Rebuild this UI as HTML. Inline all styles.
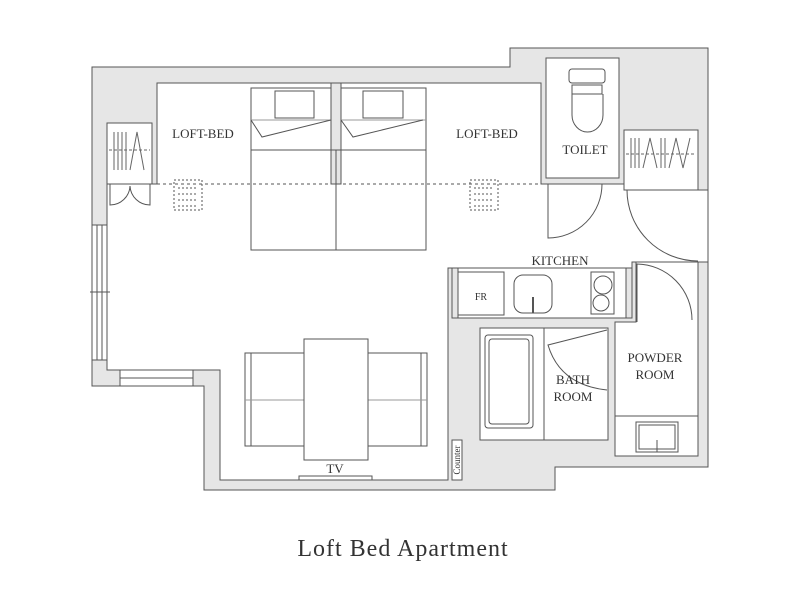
<!DOCTYPE html>
<html><head><meta charset="utf-8"><style>
html,body{margin:0;padding:0;background:#fff;width:800px;height:600px;overflow:hidden}
text{font-family:"Liberation Serif",serif;fill:#333}
</style></head><body>
<svg width="800" height="600" viewBox="0 0 800 600" xmlns="http://www.w3.org/2000/svg">
<g stroke="#555" stroke-width="1" fill="none">
<polygon points="92,67 510,67 510,48 708,48 708,467 555,467 555,490 204,490 204,386 92,386" fill="#e6e6e6"/>
<polygon points="157,83 541,83 541,184 624,184 624,190 708,190 708,262 632,262 632,268 448,268 448,480 220,480 220,370 107,370 107,184 157,184" fill="#fff"/>
<rect x="546" y="58" width="73" height="120" fill="#fff"/>
<rect x="624" y="130" width="74" height="60" fill="#fff"/>
<rect x="107" y="123" width="45" height="61" fill="#fff"/>
<rect x="452" y="268" width="180" height="50" fill="#fff"/>
<rect x="452" y="268" width="6" height="50" fill="#e6e6e6"/>
<rect x="626" y="268" width="6" height="50" fill="#e6e6e6"/>
<rect x="636" y="262" width="62" height="60" fill="#fff" stroke="none"/>
<polygon points="615,322 636,322 636,262 698,262 698,456 615,456" fill="#fff"/>
<line x1="615" y1="416" x2="698" y2="416"/>
<rect x="636" y="422" width="42" height="30"/><rect x="639" y="425" width="36" height="24"/>
<line x1="657" y1="440" x2="657" y2="452"/>
<rect x="480" y="328" width="128" height="112" fill="#fff"/>
<line x1="544" y1="328" x2="544" y2="440"/>
<rect x="485" y="335" width="48" height="93" rx="3"/><rect x="489" y="339" width="40" height="85" rx="3"/>
<rect x="452" y="440" width="10" height="40" fill="#fff"/>
<rect x="92" y="225" width="15" height="135" fill="#fff"/>
<line x1="97" y1="225" x2="97" y2="360"/><line x1="102" y1="225" x2="102" y2="360"/>
<line x1="90" y1="292" x2="110" y2="292"/>
<rect x="120" y="370" width="73" height="16" fill="#fff"/>
<line x1="120" y1="378" x2="193" y2="378"/>
<rect x="331" y="83" width="10" height="101" fill="#e6e6e6"/>
<rect x="251" y="88" width="80" height="62"/><rect x="341" y="88" width="85" height="62"/>
<rect x="251" y="150" width="175" height="100"/><line x1="336" y1="150" x2="336" y2="250"/>
<rect x="275" y="91" width="39" height="27"/><rect x="363" y="91" width="40" height="27"/>
<line x1="251" y1="120" x2="331" y2="120" stroke="#999"/><line x1="341" y1="120" x2="426" y2="120" stroke="#999"/>
<polyline points="251,120 262,137 331,120"/><polyline points="341,120 353,137 423,120"/>
<line x1="157" y1="184" x2="541" y2="184" stroke-dasharray="3,3"/>
<g stroke-dasharray="2,2"><rect x="174" y="180" width="28" height="30"/><rect x="470" y="180" width="28" height="30"/>
<line x1="178" y1="188" x2="198" y2="188"/><line x1="178" y1="194" x2="198" y2="194"/><line x1="178" y1="200" x2="198" y2="200"/><line x1="178" y1="206" x2="198" y2="206"/>
<line x1="474" y1="188" x2="494" y2="188"/><line x1="474" y1="194" x2="494" y2="194"/><line x1="474" y1="200" x2="494" y2="200"/><line x1="474" y1="206" x2="494" y2="206"/></g>
<g stroke="#666"><line x1="114" y1="132" x2="114" y2="170"/><line x1="118" y1="132" x2="118" y2="170"/><line x1="122" y1="132" x2="122" y2="170"/><line x1="126" y1="132" x2="126" y2="170"/><polyline points="130,170 137,132 144,170"/>
<line x1="109" y1="150" x2="150" y2="150" stroke-dasharray="3,2"/>
<line x1="631" y1="138" x2="631" y2="168"/><line x1="635" y1="138" x2="635" y2="168"/><line x1="639" y1="138" x2="639" y2="168"/><polyline points="643,168 650,138 657,168"/><line x1="661" y1="138" x2="661" y2="168"/><line x1="665" y1="138" x2="665" y2="168"/><polyline points="669,168 676,138 683,168 690,138"/>
<line x1="626" y1="154" x2="696" y2="154" stroke-dasharray="3,2"/></g>
<path d="M110,184 V205 A20,20 0 0 0 130,186 A20,20 0 0 0 150,205 V184"/>
<path d="M548,184 V238 A54,54 0 0 0 602,184"/>
<path d="M627,190 A71,71 0 0 0 698,261"/>
<path d="M637,322 V264 A56,56 0 0 1 692,320"/>
<path d="M607,330 L548,345 Q560,385 607,390"/>
<rect x="569" y="69" width="36" height="14" rx="3"/><rect x="572" y="85" width="30" height="9"/>
<path d="M572,94 V115 A15.5,17 0 0 0 603,115 V94"/>
<rect x="458" y="272" width="46" height="43"/>
<rect x="514" y="275" width="38" height="38" rx="9"/><line x1="533" y1="297" x2="533" y2="313" stroke-width="2"/>
<rect x="591" y="272" width="23" height="42"/><circle cx="603" cy="285" r="9"/><circle cx="601" cy="303" r="8"/>
<rect x="245" y="353" width="59" height="93"/><line x1="251" y1="353" x2="251" y2="446"/>
<rect x="368" y="353" width="59" height="93"/><line x1="421" y1="353" x2="421" y2="446"/>
<line x1="245" y1="400" x2="427" y2="400" stroke="#999"/>
<rect x="304" y="339" width="64" height="121" fill="#fff"/>
<rect x="299" y="476" width="73" height="4"/>
</g>
<g font-size="13" text-anchor="middle">
<text x="203" y="138">LOFT-BED</text>
<text x="487" y="138">LOFT-BED</text>
<text x="585" y="154">TOILET</text>
<text x="560" y="265">KITCHEN</text>
<text x="481" y="300" font-size="10">FR</text>
<text x="655" y="362">POWDER</text><text x="655" y="379">ROOM</text>
<text x="573" y="384">BATH</text><text x="573" y="401">ROOM</text>
<text x="335" y="473">TV</text>
<text transform="translate(460,460) rotate(-90)" font-size="9">Counter</text>
</g>
<text x="403" y="556" font-size="24" letter-spacing="1" text-anchor="middle">Loft Bed Apartment</text>
</svg>
</body></html>
